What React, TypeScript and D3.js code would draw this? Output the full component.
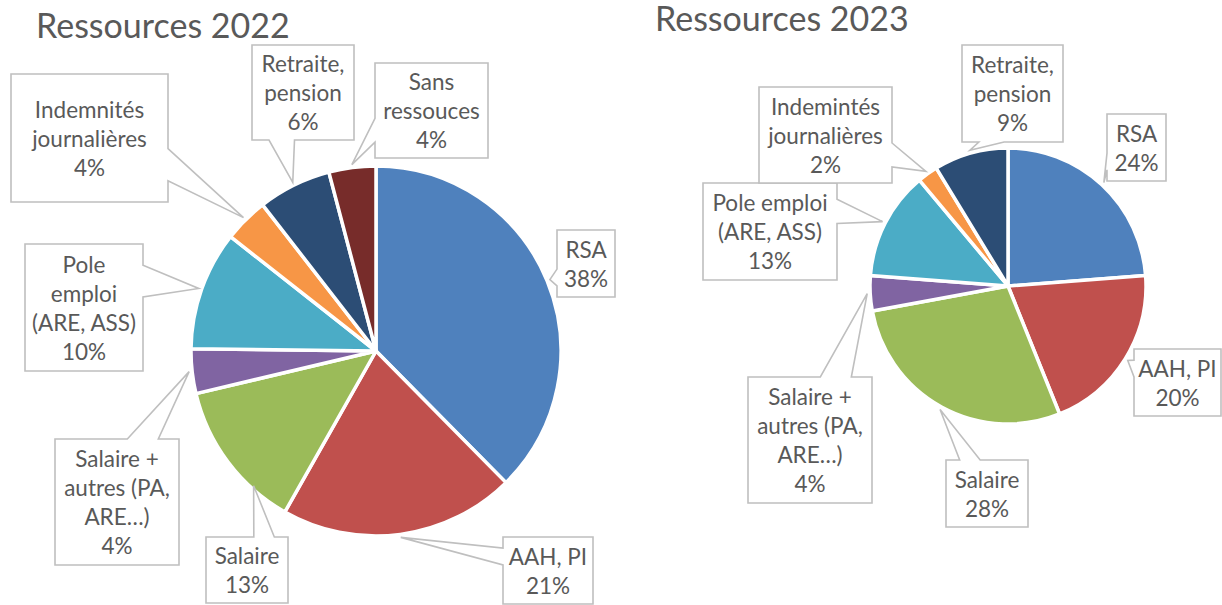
import React from 'react';
import * as d3 from 'd3';

// 2022 data (clockwise from 12 o'clock)
const categories2022 = [
  'RSA',
  'AAH, PI',
  'Salaire',
  'Salaire +\nautres (PA,\nARE…)',
  'Pole\nemploi\n(ARE, ASS)',
  'Indemnités\njournalières',
  'Retraite,\npension',
  'Sans\nressouces',
];
const values2022 = [37.6, 20.6, 13.1, 3.9, 10.4, 3.9, 6.4, 4.1];

// 2023 data
const categories2023 = [
  'RSA',
  'AAH, PI',
  'Salaire',
  'Salaire +\nautres (PA,\nARE…)',
  'Pole emploi\n(ARE, ASS)',
  'Indemintés\njournalières',
  'Retraite,\npension',
];
const values2023 = [23.8, 20.1, 28.2, 4.1, 12.7, 2.4, 8.7];

const palette = ['#4F81BD', '#C0504D', '#9BBB59', '#8064A2', '#4BACC6', '#F79646', '#2C4D75', '#772C2A'];

// callout boxes [x, y, w, h] (layout only)
const boxes2022 = [
  [557, 230, 58, 67],
  [503, 537, 90, 67],
  [206, 537, 82, 66],
  [55, 439, 124, 126],
  [25, 244, 118, 127],
  [11, 74, 157, 128],
  [252, 45, 102, 95],
  [375, 63, 113, 95],
];
const boxes2023 = [
  [1107, 114, 59, 67],
  [1134, 349, 87, 67],
  [946, 460, 82, 67],
  [748, 377, 124, 126],
  [703, 183, 134, 97],
  [759, 87, 133, 96],
  [962, 45, 101, 97],
];
// where the tail points: fraction along the slice, extra radius
const anchors2022 = [null, null, { f: 0.27, dr: -6 }, null, null, null, null, null];

const TEXT = '#595959';
const FONT = 'Lato, "Noto Sans", sans-serif';

// Excel-like wedgeRectCallout outline
function calloutPath(b: number[], px: number, py: number) {
  const [l, t, w, h] = b;
  const r = l + w;
  const bt = t + h;
  const dx = px - (l + w / 2);
  const dy = py - (t + h / 2);
  const dq = (dx * h) / w;
  const x1 = l + (w * (dx > 0 ? 7 : 2)) / 12;
  const x2 = l + (w * (dx > 0 ? 10 : 5)) / 12;
  const y1 = t + (h * (dy > 0 ? 7 : 2)) / 12;
  const y2 = t + (h * (dy > 0 ? 10 : 5)) / 12;
  const p = d3.path();
  if (Math.abs(dy) > Math.abs(dq)) {
    if (dy < 0) {
      p.moveTo(l, t); p.lineTo(x1, t); p.lineTo(px, py); p.lineTo(x2, t);
      p.lineTo(r, t); p.lineTo(r, bt); p.lineTo(l, bt);
    } else {
      p.moveTo(l, t); p.lineTo(r, t); p.lineTo(r, bt); p.lineTo(x2, bt);
      p.lineTo(px, py); p.lineTo(x1, bt); p.lineTo(l, bt);
    }
  } else if (dx > 0) {
    p.moveTo(l, t); p.lineTo(r, t); p.lineTo(r, y1); p.lineTo(px, py);
    p.lineTo(r, y2); p.lineTo(r, bt); p.lineTo(l, bt);
  } else {
    p.moveTo(l, t); p.lineTo(r, t); p.lineTo(r, bt); p.lineTo(l, bt);
    p.lineTo(l, y2); p.lineTo(px, py); p.lineTo(l, y1);
  }
  p.closePath();
  return p.toString();
}

type PieProps = {
  title: string;
  tx: number;
  ty: number;
  cx: number;
  cy: number;
  radius: number;
  categories: string[];
  values: number[];
  boxes: number[][];
  anchors?: ({ f: number; dr: number } | null)[];
};

const Pie = ({ title, tx, ty, cx, cy, radius, categories, values, boxes, anchors }: PieProps) => {
  const total = d3.sum(values);
  const arcs = d3.pie<number>().sort(null).value((d) => d)(values);
  const arc = d3.arc<d3.PieArcDatum<number>>().innerRadius(0).outerRadius(radius);
  const lineH = 29;

  return (
    <g>
      <text x={tx} y={ty} fontFamily={FONT} fontSize={34} fill={TEXT}>
        {title}
      </text>
      <g transform={`translate(${cx},${cy})`}>
        {arcs.map((a, i) => (
          <path key={i} d={arc(a) || ''} fill={palette[i]} stroke="#fff" strokeWidth={3.5} strokeLinejoin="round" />
        ))}
      </g>
      {arcs.map((a, i) => {
        const an = anchors && anchors[i];
        const f = an ? an.f : 0.5;
        const ang = a.startAngle + (a.endAngle - a.startAngle) * f;
        const rr = radius + 3 + (an ? an.dr : 0);
        const px = cx + rr * Math.sin(ang);
        const py = cy - rr * Math.cos(ang);
        const b = boxes[i];
        const lines = [...categories[i].split('\n'), `${Math.round((values[i] / total) * 100)}%`];
        const bcx = b[0] + b[2] / 2;
        const bcy = b[1] + b[3] / 2;
        return (
          <g key={'l' + i}>
            <path d={calloutPath(b, px, py)} fill="#fff" stroke="#BFBFBF" strokeWidth={1.6} />
            <text fontFamily={FONT} fontSize={22.5} fill={TEXT} textAnchor="middle">
              {lines.map((s, j) => (
                <tspan key={j} x={bcx} y={bcy + (j - (lines.length - 1) / 2) * lineH + 8.5}>
                  {s}
                </tspan>
              ))}
            </text>
          </g>
        );
      })}
    </g>
  );
};

export default function App() {
  return (
    <div>
      <style>{`body{margin:0;background:#fff}`}</style>
      <svg width={1222} height={605} style={{ display: 'block' }}>
        <rect width={1222} height={605} fill="#fff" />
        <Pie
          title="Ressources 2022"
          tx={36}
          ty={38}
          cx={376}
          cy={351}
          radius={185}
          categories={categories2022}
          values={values2022}
          boxes={boxes2022}
          anchors={anchors2022}
        />
        <Pie
          title="Ressources 2023"
          tx={655}
          ty={31}
          cx={1008}
          cy={286}
          radius={138}
          categories={categories2023}
          values={values2023}
          boxes={boxes2023}
        />
      </svg>
    </div>
  );
}
